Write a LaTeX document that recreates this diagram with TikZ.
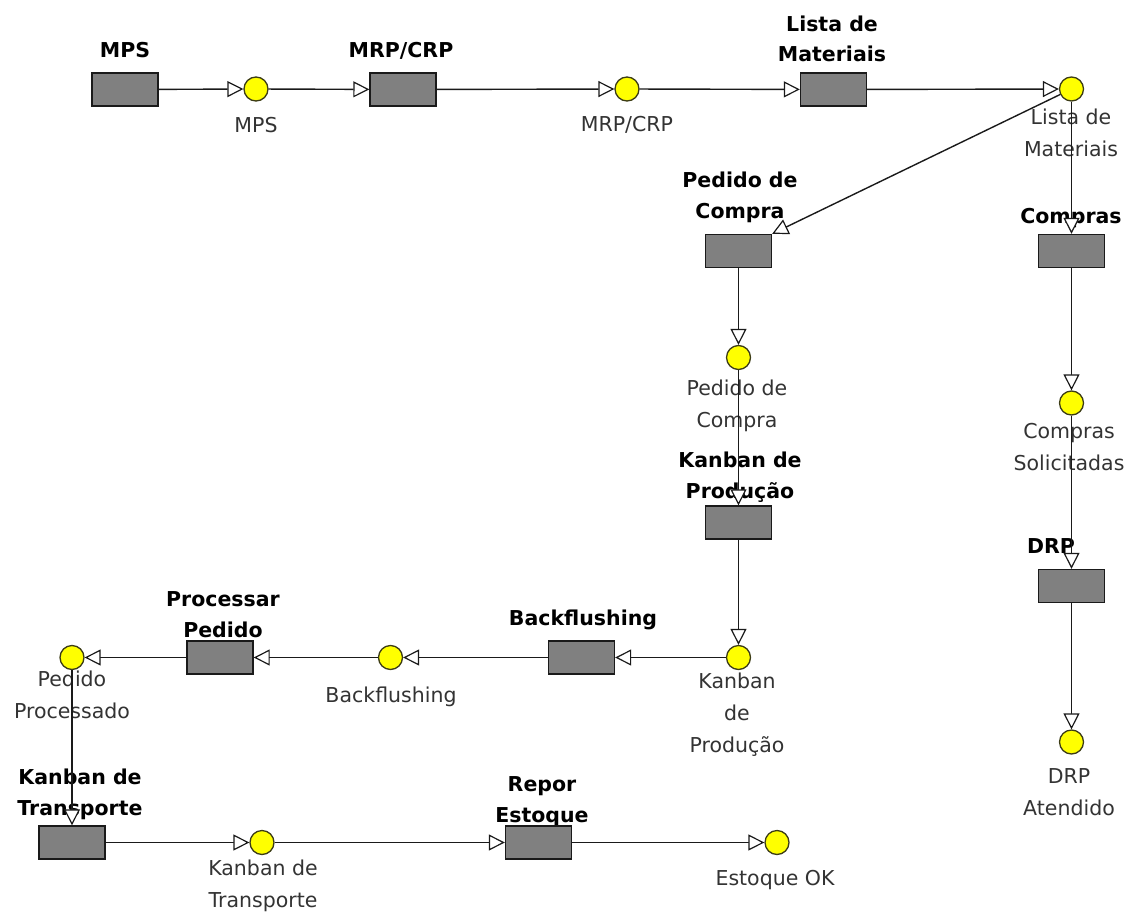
\documentclass[tikz,border=0pt]{standalone}
\usepackage{fontspec}
\setmainfont{DejaVu Sans}
\usetikzlibrary{arrows.meta}
\definecolor{transfill}{HTML}{808080}
\definecolor{placefill}{HTML}{FFFF00}
\definecolor{edgecol}{HTML}{1A1A1A}
\definecolor{labgray}{HTML}{333333}
\tikzset{
  trans/.style={draw=edgecol, fill=transfill, line width=1.4pt, minimum width=66pt, minimum height=33pt, inner sep=0pt},
  place/.style={draw=edgecol!85!yellow, fill=placefill, circle, line width=1.3pt, minimum size=24pt, inner sep=0pt},
  tlabel/.style={anchor=base, align=center, inner sep=0pt, font=\bfseries\fontsize{20.5}{30.5}\selectfont, text=black},
  plabel/.style={anchor=base, align=center, inner sep=0pt, font=\fontsize{20.5}{32}\selectfont, text=labgray},
  arc/.style={draw=edgecol, line width=1.4pt, -{Triangle[length=16pt,width=16pt,fill=white,line width=1.2pt]}}
}
\begin{document}
\begin{tikzpicture}[x=1pt,y=-1pt]
\useasboundingbox (0,0) rectangle (1134,912);
% labels of transitions (anchor at baseline of last line)
\node[tlabel] (lMPS) at (125,58) {MPS};
\node[tlabel] (lMRP) at (401,58) {MRP/CRP};
\node[tlabel] (lLM) at (832,62) {Lista de\\Materiais};
\node[tlabel] (lPC) at (740,218) {Pedido de\\Compra};
\node[tlabel] (lCO) at (1071,223) {Compras};
\node[tlabel] (lKP) at (740,498) {Kanban de\\Produção};
\node[tlabel] (lDRP) at (1051,553) {DRP};
\node[tlabel] (lPP) at (223,637) {Processar\\Pedido};
\node[tlabel] (lBF) at (583,625) {Backflushing};
\node[tlabel] (lKT) at (80,815) {Kanban de\\Transporte};
\node[tlabel] (lRE) at (542,822) {Repor\\Estoque};
% labels of places
\node[plabel] (qMPS) at (256,133) {MPS};
\node[plabel] (qMRP) at (627,132) {MRP/CRP};
\node[plabel] (qLM) at (1071,157) {Lista de\\Materiais};
\node[plabel] (qPC) at (737,427) {Pedido de\\Compra};
\node[plabel] (qCS) at (1069,470) {Compras\\Solicitadas};
\node[plabel] (qKP) at (737,752) {Kanban\\de\\Produção};
\node[plabel] (qDRP) at (1069,815) {DRP\\Atendido};
\node[plabel] (qBF) at (391,702) {Backflushing};
\node[plabel] (qPR) at (72,718) {Pedido\\Processado};
\node[plabel] (qKT) at (263,907) {Kanban de\\Transporte};
\node[plabel] (qEOK) at (775,885) {Estoque OK};
% transitions
\node[trans] (tMPS) at (125,89.5) {};
\node[trans] (tMRP) at (403,89.5) {};
\node[trans] (tLM) at (833.5,89.5) {};
\node[trans] (tPC) at (738.5,251) {};
\node[trans] (tCO) at (1071.5,251) {};
\node[trans] (tKP) at (738.5,522.5) {};
\node[trans] (tDRP) at (1071.5,586) {};
\node[trans] (tBF) at (581.5,657.5) {};
\node[trans] (tPP) at (220,657.5) {};
\node[trans] (tKT) at (72,842.5) {};
\node[trans] (tRE) at (538.5,842.5) {};
% places
\node[place] (pMPS) at (256,89) {};
\node[place] (pMRP) at (627,89) {};
\node[place] (pLM) at (1071.5,89) {};
\node[place] (pPC) at (738.5,357.5) {};
\node[place] (pCS) at (1071.5,403) {};
\node[place] (pKP) at (738.5,657.5) {};
\node[place] (pDRP) at (1071.5,742) {};
\node[place] (pBF) at (390.5,657.5) {};
\node[place] (pPR) at (72,657.5) {};
\node[place] (pKT) at (262,842.5) {};
\node[place] (pEOK) at (777,842.5) {};
% arcs
\draw[arc] (tMPS) -- (pMPS);
\draw[arc] (pMPS) -- (tMRP);
\draw[arc] (tMRP) -- (pMRP);
\draw[arc] (pMRP) -- (tLM);
\draw[arc] (tLM) -- (pLM);
\draw[arc] (pLM) -- (tPC.north east);
\draw[arc] (pLM) -- (tCO);
\draw[arc] (tPC) -- (pPC);
\draw[arc] (pPC) -- (tKP);
\draw[arc] (tCO) -- (pCS);
\draw[arc] (pCS) -- (tDRP);
\draw[arc] (tKP) -- (pKP);
\draw[arc] (tDRP) -- (pDRP);
\draw[arc] (pKP) -- (tBF);
\draw[arc] (tBF) -- (pBF);
\draw[arc] (pBF) -- (tPP);
\draw[arc] (tPP) -- (pPR);
\draw[arc] (pPR) -- (tKT);
\draw[arc] (tKT) -- (pKT);
\draw[arc] (pKT) -- (tRE);
\draw[arc] (tRE) -- (pEOK);
\end{tikzpicture}
\end{document}
